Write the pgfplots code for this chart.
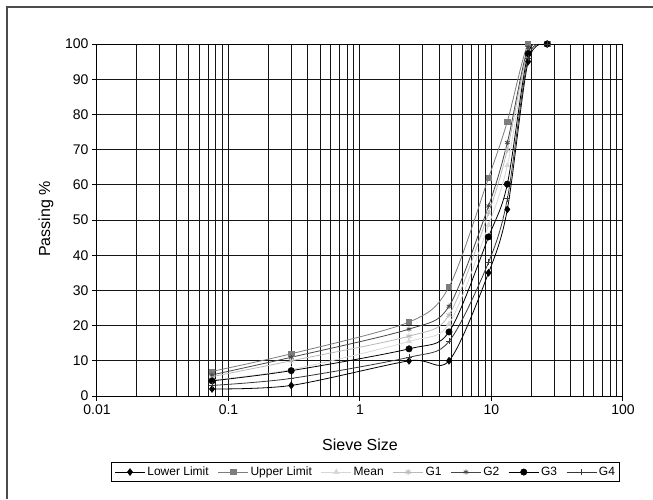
\documentclass[border=0pt]{standalone}
\usepackage{pgfplots}
\pgfplotsset{compat=1.18}
\usepackage{fontspec}
\setmainfont{Liberation Sans}

\definecolor{cUpper}{RGB}{125,125,125}
\definecolor{cMean}{RGB}{215,215,215}
\definecolor{cGone}{RGB}{185,185,185}
\definecolor{cGtwo}{RGB}{70,70,70}
\definecolor{cGfour}{RGB}{55,55,55}
\definecolor{cGrid}{RGB}{20,20,20}

\begin{document}
\begin{tikzpicture}[x=1pt,y=1pt]
\useasboundingbox (0,0) rectangle (653,499);
\draw[line width=1.2pt, black!70] (7,0) -- (7,492) -- (653,492);
\begin{axis}[
    at={(97pt,103pt)}, anchor=south west,
    scale only axis,
    width=526pt, height=352pt,
    xmode=log,
    xmin=0.01, xmax=100,
    ymin=0, ymax=100,
    xtick={0.01,0.1,1,10,100},
    xticklabels={0.01,0.1,1,10,100},
    minor xtick={0.02,0.03,0.04,0.05,0.06,0.07,0.08,0.09,
                 0.2,0.3,0.4,0.5,0.6,0.7,0.8,0.9,
                 2,3,4,5,6,7,8,9,20,30,40,50,60,70,80,90},
    ytick={0,10,...,100},
    xmajorgrids, xminorgrids, ymajorgrids,
    grid style={cGrid, line width=1pt},
    minor grid style={cGrid, line width=1pt},
    axis line style={black, line width=1pt},
    tick style={black, line width=1pt},
    tick align=outside,
    major tick length=5pt,
    minor tick length=0pt,
    xtick pos=bottom, ytick pos=left,
    /pgf/number format/assume math mode=true,
    tick label style={font=\fontsize{14}{14}\selectfont},
    xlabel={Sieve Size},
    ylabel={Passing \%},
    label style={font=\fontsize{16}{16}\selectfont},
    xlabel style={at={(axis description cs:0.5,-0.139)}, anchor=center},
    ylabel style={at={(axis description cs:-0.097,0.503)}, anchor=center},
    legend columns=7,
    legend style={at={(0.511,-0.216)}, anchor=center,
        draw=black, line width=1pt,
        font=\fontsize{12}{12}\selectfont,
        inner xsep=3pt, inner ysep=2.5pt,
        /tikz/every even column/.append style={column sep=7pt}},
    legend image code/.code={
        \draw[mark repeat=2,mark phase=2]
        plot coordinates {(0pt,0pt) (15pt,0pt) (30pt,0pt)};},
    every axis plot/.append style={smooth, tension=0.5, line width=0.8pt},
]
% Lower Limit
\addplot[black, mark=diamond*, mark size=3.5pt, mark options={solid, line width=0.5pt}]
coordinates {(0.075,2) (0.3,3) (2.36,10) (4.75,10) (9.5,35) (13.2,53) (19,95) (26.5,100)};
\addlegendentry{Lower Limit}
% Upper Limit
\addplot[cUpper, mark=square*, mark size=2.6pt, mark options={solid, line width=0.5pt}]
coordinates {(0.075,7) (0.3,12) (2.36,21) (4.75,31) (9.5,62) (13.2,78) (19,100) (26.5,100)};
\addlegendentry{Upper Limit}
% Mean
\addplot[cMean, mark=triangle*, mark size=3pt, mark options={solid, line width=0.5pt}]
coordinates {(0.075,4.5) (0.3,7.5) (2.36,15.5) (4.75,20.5) (9.5,48.5) (13.2,65.5) (19,97.5) (26.5,100)};
\addlegendentry{Mean}
% G1
\addplot[cGone, mark=asterisk, mark size=3pt, mark options={solid, line width=0.8pt}]
coordinates {(0.075,5.5) (0.3,10) (2.36,17) (4.75,23) (9.5,52) (13.2,70) (19,98) (26.5,100)};
\addlegendentry{G1}
% G2
\addplot[cGtwo, mark=asterisk, mark size=2.6pt, mark options={solid, line width=0.8pt}]
coordinates {(0.075,6) (0.3,11) (2.36,19) (4.75,25.5) (9.5,54) (13.2,72) (19,99) (26.5,100)};
\addlegendentry{G2}
% G3
\addplot[black, mark=*, mark size=3.2pt, mark options={solid, line width=0.5pt}]
coordinates {(0.075,4.3) (0.3,7.2) (2.36,13.4) (4.75,18.2) (9.5,45.2) (13.2,60.2) (19,97.3) (26.5,100)};
\addlegendentry{G3}
% G4
\addplot[cGfour, mark=+, mark size=3pt, mark options={solid, line width=0.8pt}]
coordinates {(0.075,3) (0.3,5) (2.36,11) (4.75,15.5) (9.5,38) (13.2,56) (19,96) (26.5,100)};
\addlegendentry{G4}
\end{axis}
\end{tikzpicture}
\end{document}
